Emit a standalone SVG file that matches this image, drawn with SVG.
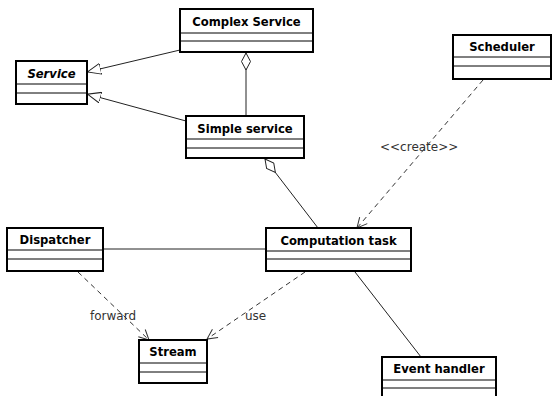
<svg xmlns="http://www.w3.org/2000/svg" width="552" height="396" viewBox="0 0 552 396">
<style>
.box{fill:#fff;stroke:#000;stroke-width:2}
.sep{stroke:#000;stroke-width:1}
.t{font-family:"DejaVu Sans",sans-serif;font-size:11.6px;font-weight:bold;text-anchor:middle;fill:#000}
.lbl{font-family:"DejaVu Sans",sans-serif;font-size:12px;fill:#333}
.solid{stroke:#222;stroke-width:1;fill:none}
.dash{stroke:#333;stroke-width:1;fill:none;stroke-dasharray:5,4}
</style>
<defs>
<marker id="tri" viewBox="0 0 14 12" refX="14" refY="6" markerWidth="14" markerHeight="12" markerUnits="userSpaceOnUse" orient="auto">
<path d="M0,0.5 L13.5,6 L0,11.5 Z" fill="#fff" stroke="#222" stroke-width="1"/>
</marker>
<marker id="dia" viewBox="0 0 18 10" refX="0.5" refY="5" markerWidth="18" markerHeight="10" markerUnits="userSpaceOnUse" orient="auto">
<path d="M0.5,5 L9,0.5 L17.5,5 L9,9.5 Z" fill="#fff" stroke="#222" stroke-width="1"/>
</marker>
<marker id="open" viewBox="0 0 12 12" refX="11" refY="6" markerWidth="12" markerHeight="12" markerUnits="userSpaceOnUse" orient="auto">
<path d="M1,1 L11,6 L1,11" fill="none" stroke="#333" stroke-width="1"/>
</marker>
</defs>
<g id="connectors">
<line class="solid" x1="180" y1="50" x2="87" y2="72" marker-end="url(#tri)"/>
<line class="solid" x1="186" y1="121" x2="87" y2="94" marker-end="url(#tri)"/>
<line class="solid" x1="246" y1="53" x2="246" y2="116" marker-start="url(#dia)"/>
<line class="solid" x1="265" y1="159" x2="318" y2="228" marker-start="url(#dia)"/>
<line class="dash" x1="483" y1="80" x2="357" y2="228" marker-end="url(#open)"/>
<text class="lbl" x="380" y="151">&lt;&lt;create&gt;&gt;</text>
<line class="solid" x1="103" y1="249" x2="266" y2="249"/>
<line class="dash" x1="78" y1="272" x2="149" y2="340" marker-end="url(#open)"/>
<text class="lbl" x="90" y="320">forward</text>
<line class="dash" x1="305" y1="272" x2="207" y2="339" marker-end="url(#open)"/>
<text class="lbl" x="245" y="320">use</text>
<line class="solid" x1="355" y1="272" x2="421" y2="357"/>
</g>
<g id="complex-service">
<rect class="box" x="180" y="9" width="133" height="43"/>
<line class="sep" x1="180" y1="33" x2="313" y2="33"/>
<line class="sep" x1="180" y1="41" x2="313" y2="41"/>
<text class="t" x="246.5" y="25.5">Complex Service</text>
</g>
<g id="service">
<rect class="box" x="16" y="61" width="71" height="43"/>
<line class="sep" x1="16" y1="84" x2="87" y2="84"/>
<line class="sep" x1="16" y1="93" x2="87" y2="93"/>
<text class="t" x="51.5" y="77.5" font-style="italic">Service</text>
</g>
<g id="simple-service">
<rect class="box" x="186" y="116" width="118" height="42"/>
<line class="sep" x1="186" y1="139" x2="304" y2="139"/>
<line class="sep" x1="186" y1="148" x2="304" y2="148"/>
<text class="t" x="245" y="132.5">Simple service</text>
</g>
<g id="scheduler">
<rect class="box" x="453" y="35" width="98" height="44"/>
<line class="sep" x1="453" y1="57" x2="551" y2="57"/>
<line class="sep" x1="453" y1="66" x2="551" y2="66"/>
<text class="t" x="502" y="51">Scheduler</text>
</g>
<g id="dispatcher">
<rect class="box" x="7" y="228" width="96" height="43"/>
<line class="sep" x1="7" y1="250" x2="103" y2="250"/>
<line class="sep" x1="7" y1="259" x2="103" y2="259"/>
<text class="t" x="55" y="244">Dispatcher</text>
</g>
<g id="computation-task">
<rect class="box" x="266" y="228" width="145" height="43"/>
<line class="sep" x1="266" y1="251" x2="411" y2="251"/>
<line class="sep" x1="266" y1="259" x2="411" y2="259"/>
<text class="t" x="338.5" y="244.5">Computation task</text>
</g>
<g id="stream">
<rect class="box" x="139" y="340" width="68" height="43"/>
<line class="sep" x1="139" y1="363" x2="207" y2="363"/>
<line class="sep" x1="139" y1="372" x2="207" y2="372"/>
<text class="t" x="173" y="356">Stream</text>
</g>
<g id="event-handler">
<rect class="box" x="382" y="357" width="114" height="44"/>
<line class="sep" x1="382" y1="380" x2="496" y2="380"/>
<line class="sep" x1="382" y1="388" x2="496" y2="388"/>
<text class="t" x="439" y="373">Event handler</text>
</g>
</svg>
